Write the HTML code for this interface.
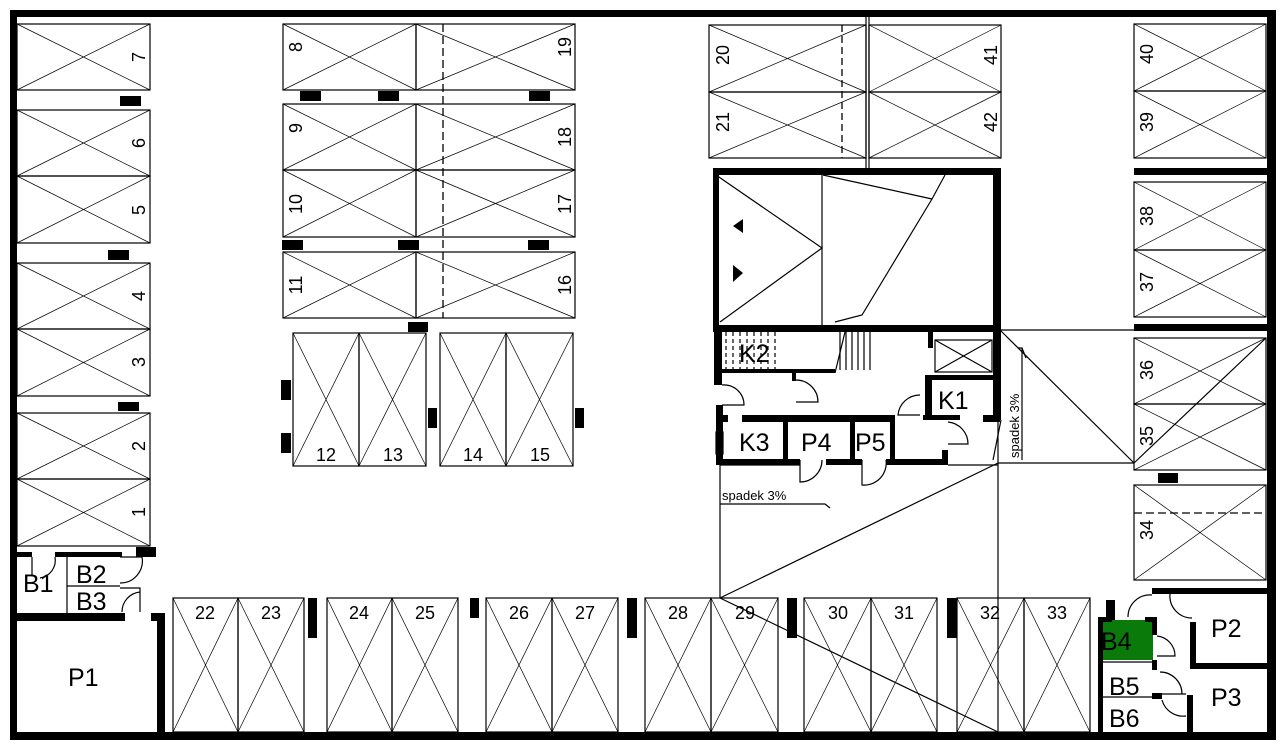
<!DOCTYPE html>
<html><head><meta charset="utf-8"><style>
html,body{margin:0;padding:0;background:#fff;}
svg{display:block;font-family:"Liberation Sans",Arial,sans-serif;}
.s{fill:none;stroke:#000;stroke-width:1.2}
.x{stroke:#000;stroke-width:0.7}
.n{font-size:18px;fill:#000}
.r{font-size:25px;fill:#000}
</style></head><body>
<svg width="1284" height="748" viewBox="0 0 1284 748" xmlns="http://www.w3.org/2000/svg">
<rect width="1284" height="748" fill="#fff"/>
<rect x="10" y="10" width="1266" height="7" fill="#000"/>
<rect x="10" y="10" width="7" height="730" fill="#000"/>
<rect x="10" y="732" width="1266" height="8" fill="#000"/>
<rect x="1267" y="10" width="9" height="730" fill="#000"/>

<g class="x" fill="none">
<rect class="s" x="17" y="24" width="133" height="66"/><line x1="17" y1="24" x2="150" y2="90"/><line x1="17" y1="90" x2="150" y2="24"/>
<rect class="s" x="17" y="110" width="133" height="66"/><line x1="17" y1="110" x2="150" y2="176"/><line x1="17" y1="176" x2="150" y2="110"/>
<rect class="s" x="17" y="176" width="133" height="67"/><line x1="17" y1="176" x2="150" y2="243"/><line x1="17" y1="243" x2="150" y2="176"/>
<rect class="s" x="17" y="263" width="133" height="66"/><line x1="17" y1="263" x2="150" y2="329"/><line x1="17" y1="329" x2="150" y2="263"/>
<rect class="s" x="17" y="329" width="133" height="67"/><line x1="17" y1="329" x2="150" y2="396"/><line x1="17" y1="396" x2="150" y2="329"/>
<rect class="s" x="17" y="413" width="133" height="66"/><line x1="17" y1="413" x2="150" y2="479"/><line x1="17" y1="479" x2="150" y2="413"/>
<rect class="s" x="17" y="479" width="133" height="67"/><line x1="17" y1="479" x2="150" y2="546"/><line x1="17" y1="546" x2="150" y2="479"/>

<rect class="s" x="283" y="24" width="133" height="66"/><line x1="283" y1="24" x2="416" y2="90"/><line x1="283" y1="90" x2="416" y2="24"/>
<rect class="s" x="416" y="24" width="159" height="66"/><line x1="416" y1="24" x2="575" y2="90"/><line x1="416" y1="90" x2="575" y2="24"/>
<rect class="s" x="283" y="104" width="133" height="66"/><line x1="283" y1="104" x2="416" y2="170"/><line x1="283" y1="170" x2="416" y2="104"/>
<rect class="s" x="416" y="104" width="159" height="66"/><line x1="416" y1="104" x2="575" y2="170"/><line x1="416" y1="170" x2="575" y2="104"/>
<rect class="s" x="283" y="170" width="133" height="67"/><line x1="283" y1="170" x2="416" y2="237"/><line x1="283" y1="237" x2="416" y2="170"/>
<rect class="s" x="416" y="170" width="159" height="67"/><line x1="416" y1="170" x2="575" y2="237"/><line x1="416" y1="237" x2="575" y2="170"/>
<rect class="s" x="283" y="252" width="133" height="66"/><line x1="283" y1="252" x2="416" y2="318"/><line x1="283" y1="318" x2="416" y2="252"/>
<rect class="s" x="416" y="252" width="159" height="66"/><line x1="416" y1="252" x2="575" y2="318"/><line x1="416" y1="318" x2="575" y2="252"/>
<line x1="443" y1="24" x2="443" y2="318" stroke-dasharray="8,4" stroke-width="1.3"/>

<rect class="s" x="293" y="333" width="66" height="133"/><line x1="293" y1="333" x2="359" y2="466"/><line x1="293" y1="466" x2="359" y2="333"/>
<rect class="s" x="359" y="333" width="67" height="133"/><line x1="359" y1="333" x2="426" y2="466"/><line x1="359" y1="466" x2="426" y2="333"/>
<rect class="s" x="440" y="333" width="66" height="133"/><line x1="440" y1="333" x2="506" y2="466"/><line x1="440" y1="466" x2="506" y2="333"/>
<rect class="s" x="506" y="333" width="67" height="133"/><line x1="506" y1="333" x2="573" y2="466"/><line x1="506" y1="466" x2="573" y2="333"/>

<rect class="s" x="709" y="25" width="157" height="67"/><line x1="709" y1="25" x2="866" y2="92"/><line x1="709" y1="92" x2="866" y2="25"/>
<rect class="s" x="709" y="92" width="157" height="66"/><line x1="709" y1="92" x2="866" y2="158"/><line x1="709" y1="158" x2="866" y2="92"/>
<line x1="842" y1="25" x2="842" y2="158" stroke-dasharray="7,4" stroke-width="1.3"/>
<rect class="s" x="869" y="25" width="132" height="67"/><line x1="869" y1="25" x2="1001" y2="92"/><line x1="869" y1="92" x2="1001" y2="25"/>
<rect class="s" x="869" y="92" width="132" height="66"/><line x1="869" y1="92" x2="1001" y2="158"/><line x1="869" y1="158" x2="1001" y2="92"/>
<line class="s" x1="866" y1="17" x2="866" y2="168"/><line class="s" x1="869" y1="17" x2="869" y2="168"/>

<rect class="s" x="1134" y="24" width="132" height="67"/><line x1="1134" y1="24" x2="1266" y2="91"/><line x1="1134" y1="91" x2="1266" y2="24"/>
<rect class="s" x="1134" y="91" width="132" height="67"/><line x1="1134" y1="91" x2="1266" y2="158"/><line x1="1134" y1="158" x2="1266" y2="91"/>
<rect class="s" x="1134" y="182" width="132" height="68"/><line x1="1134" y1="182" x2="1266" y2="250"/><line x1="1134" y1="250" x2="1266" y2="182"/>
<rect class="s" x="1134" y="250" width="132" height="67"/><line x1="1134" y1="250" x2="1266" y2="317"/><line x1="1134" y1="317" x2="1266" y2="250"/>
<rect class="s" x="1134" y="338" width="132" height="66"/><line x1="1134" y1="338" x2="1266" y2="404"/><line x1="1134" y1="404" x2="1266" y2="338"/>
<rect class="s" x="1134" y="404" width="132" height="66"/><line x1="1134" y1="404" x2="1266" y2="470"/><line x1="1134" y1="470" x2="1266" y2="404"/>
<rect class="s" x="1134" y="485" width="132" height="95"/><line x1="1134" y1="485" x2="1266" y2="580"/><line x1="1134" y1="580" x2="1266" y2="485"/>
<line x1="1134" y1="513" x2="1266" y2="513" stroke-dasharray="8,4" stroke-width="1.3"/>

<rect class="s" x="173" y="598" width="65" height="134"/><line x1="173" y1="598" x2="238" y2="732"/><line x1="173" y1="732" x2="238" y2="598"/>
<rect class="s" x="238" y="598" width="66" height="134"/><line x1="238" y1="598" x2="304" y2="732"/><line x1="238" y1="732" x2="304" y2="598"/>
<rect class="s" x="327" y="598" width="65" height="134"/><line x1="327" y1="598" x2="392" y2="732"/><line x1="327" y1="732" x2="392" y2="598"/>
<rect class="s" x="392" y="598" width="66" height="134"/><line x1="392" y1="598" x2="458" y2="732"/><line x1="392" y1="732" x2="458" y2="598"/>
<rect class="s" x="486" y="598" width="66" height="134"/><line x1="486" y1="598" x2="552" y2="732"/><line x1="486" y1="732" x2="552" y2="598"/>
<rect class="s" x="552" y="598" width="66" height="134"/><line x1="552" y1="598" x2="618" y2="732"/><line x1="552" y1="732" x2="618" y2="598"/>
<rect class="s" x="645" y="598" width="66" height="134"/><line x1="645" y1="598" x2="711" y2="732"/><line x1="645" y1="732" x2="711" y2="598"/>
<rect class="s" x="711" y="598" width="67" height="134"/><line x1="711" y1="598" x2="778" y2="732"/><line x1="711" y1="732" x2="778" y2="598"/>
<rect class="s" x="804" y="598" width="67" height="134"/><line x1="804" y1="598" x2="871" y2="732"/><line x1="804" y1="732" x2="871" y2="598"/>
<rect class="s" x="871" y="598" width="66" height="134"/><line x1="871" y1="598" x2="937" y2="732"/><line x1="871" y1="732" x2="937" y2="598"/>
<rect class="s" x="957" y="598" width="67" height="134"/><line x1="957" y1="598" x2="1024" y2="732"/><line x1="957" y1="732" x2="1024" y2="598"/>
<rect class="s" x="1024" y="598" width="66" height="134"/><line x1="1024" y1="598" x2="1090" y2="732"/><line x1="1024" y1="732" x2="1090" y2="598"/>
</g>

<g class="s">
<line x1="720" y1="465" x2="720" y2="598"/>
<line x1="720" y1="598" x2="998" y2="463"/>
<line x1="720" y1="598" x2="998" y2="732"/>
<line x1="998" y1="420" x2="998" y2="732"/>
<line x1="998" y1="463" x2="1134" y2="463"/>
<line x1="1000" y1="330" x2="1134" y2="330"/>
<line x1="1000" y1="330" x2="1134" y2="463"/>
<line x1="1134" y1="463" x2="1266" y2="338"/>
<line x1="720" y1="465" x2="800" y2="465"/>
<line x1="948" y1="465" x2="998" y2="465"/>
</g>

<g fill="#000">
<rect x="120" y="96" width="21" height="10"/>
<rect x="108" y="250" width="21" height="10"/>
<rect x="118" y="402" width="21" height="9"/>
<rect x="136" y="547" width="20" height="10"/>
<rect x="300" y="91" width="21" height="10"/>
<rect x="378" y="91" width="21" height="10"/>
<rect x="529" y="91" width="21" height="10"/>
<rect x="282" y="240" width="21" height="10"/>
<rect x="398" y="240" width="21" height="10"/>
<rect x="528" y="240" width="21" height="10"/>
<rect x="408" y="322" width="20" height="10"/>
<rect x="281" y="380" width="10" height="20"/>
<rect x="281" y="433" width="10" height="20"/>
<rect x="428" y="408" width="9" height="20"/>
<rect x="575" y="408" width="9" height="20"/>
<rect x="1158" y="473" width="20" height="10"/>
<rect x="308" y="598" width="9" height="40"/>
<rect x="470" y="598" width="9" height="20"/>
<rect x="627" y="598" width="10" height="40"/>
<rect x="787" y="598" width="10" height="40"/>
<rect x="947" y="598" width="10" height="40"/>
<rect x="1134" y="168" width="134" height="7"/>
<rect x="1134" y="324" width="134" height="7"/>
</g>

<g fill="#000">
<rect x="713" y="168" width="287" height="7"/>
<rect x="713" y="168" width="6" height="164"/>
<rect x="993" y="168" width="8" height="252"/>
<rect x="713" y="325" width="287" height="7"/>
<rect x="714" y="332" width="8" height="53"/>
<rect x="716" y="405" width="7" height="60"/>
<rect x="722" y="369" width="113" height="4"/>
<rect x="792" y="372" width="4" height="9"/>
<rect x="742" y="415" width="153" height="7"/>
<rect x="722" y="415" width="6" height="7"/>
<rect x="783" y="415" width="5" height="50"/>
<rect x="850" y="415" width="5" height="50"/>
<rect x="890" y="415" width="5" height="50"/>
<rect x="716" y="459" width="84" height="6"/>
<rect x="826" y="459" width="36" height="6"/>
<rect x="886" y="459" width="62" height="6"/>
<rect x="942" y="450" width="6" height="15"/>
<rect x="928" y="332" width="5" height="16"/>
<rect x="928" y="375" width="66" height="5"/>
<rect x="925" y="375" width="7" height="44"/>
<rect x="923" y="415" width="37" height="5"/>
<rect x="983" y="415" width="17" height="7"/>
<polygon points="743,219 743,233 733,226"/>
<polygon points="733,265 743,273 733,282"/>
</g>
<g class="s" stroke-width="1">
<line x1="822" y1="175" x2="822" y2="325"/>
<polyline points="716,175 822,248 720,322"/>
<line x1="823" y1="175" x2="932" y2="199"/>
<polyline points="945,175 932,199 862,315 835,322"/>
<rect x="935" y="340" width="57" height="32"/>
<line x1="935" y1="340" x2="992" y2="372"/><line x1="935" y1="372" x2="992" y2="340"/>
<polyline points="835,373 845,332"/>
<path d="M840 332V370M846 332V370M852 332V370M858 332V370M864 332V370M870 332V370" />
<path d="M726 332V369M733 332V369M740 332V369M747 332V369M754 332V369M761 332V369M768 332V369M775 332V369" stroke-dasharray="4,3"/>
<path d="M722 385 A20 20 0 0 1 744 405 L722 405"/>
<path d="M796 380 A22 22 0 0 1 818 402 L796 402"/>
<path d="M800 460 V482 A22 22 0 0 0 822 460"/>
<path d="M862 460 V485 A22 22 0 0 0 886 460"/>
<path d="M920 395 A22 22 0 0 0 898 415 L920 415"/>
<path d="M948 422 A22 22 0 0 1 968 444 L948 444"/>
<rect x="716" y="432" width="7" height="22"/>
<line x1="1001" y1="420" x2="993" y2="460"/>
</g>
<g class="s" stroke-width="1">
<polyline points="720,504 825,504 830,508"/>
<polyline points="1022,348 1022,460"/>
<polyline points="1018,348 1022,348 1026,358"/>
</g>
<text x="722" y="500" font-size="13">spadek 3%</text>
<text transform="translate(1019,458) rotate(-90)" font-size="13">spadek 3%</text>

<g fill="#000">
<rect x="17" y="552" width="15" height="5"/>
<rect x="55" y="552" width="67" height="5"/>
<rect x="17" y="613" width="108" height="8"/>
<rect x="151" y="613" width="14" height="8"/>
<rect x="157" y="613" width="8" height="119"/>
</g>
<g class="s" stroke-width="1">
<line x1="67" y1="557" x2="67" y2="613"/>
<line x1="67" y1="586" x2="120" y2="586"/>
<path d="M32 557 V575 M55 557 A18 18 0 0 1 40 578"/>
<path d="M120 557 H142 A22 22 0 0 1 120 583"/>
<path d="M120 588 H140 V612 M140 592 A20 20 0 0 0 122 612"/>
</g>
<text class="r" x="23" y="592">B1</text>
<text class="r" x="76" y="583">B2</text>
<text class="r" x="76" y="610">B3</text>
<text class="r" font-size="27" x="68" y="686">P1</text>

<rect x="1102" y="620" width="51" height="40" fill="#0a7a0a"/>
<g fill="#000">
<rect x="1106" y="600" width="9" height="20"/>
<rect x="1098" y="618" width="5" height="114"/>
<rect x="1098" y="617" width="14" height="5"/>
<rect x="1145" y="617" width="12" height="5"/>
<rect x="1152" y="617" width="5" height="18"/>
<rect x="1152" y="660" width="5" height="10"/>
<rect x="1152" y="588" width="116" height="6"/>
<rect x="1190" y="622" width="6" height="46"/>
<rect x="1190" y="663" width="78" height="6"/>
<rect x="1187" y="695" width="6" height="37"/>
<rect x="1152" y="693" width="10" height="6"/>
</g>
<g class="s" stroke-width="1">
<line x1="1103" y1="697" x2="1160" y2="697"/>
<line x1="1103" y1="662" x2="1153" y2="662"/>
<path d="M1128 617 A22 22 0 0 1 1152 595"/>
<path d="M1170 594 A22 22 0 0 0 1192 618"/>
<path d="M1157 636 A20 20 0 0 1 1175 656 L1157 656"/>
<path d="M1162 694 H1186 M1160 672 A22 22 0 0 1 1182 694"/>
<path d="M1186 716 A22 22 0 0 1 1162 700"/>
</g>
<text class="r" x="1101" y="650">B4</text>
<text class="r" x="1109" y="695">B5</text>
<text class="r" x="1109" y="727">B6</text>
<text class="r" font-size="27" x="1211" y="637">P2</text>
<text class="r" font-size="27" x="1211" y="706">P3</text>
<text class="r" x="739" y="362">K2</text>
<text class="r" x="739" y="451">K3</text>
<text class="r" x="801" y="451">P4</text>
<text class="r" x="855" y="451">P5</text>
<text class="r" x="938" y="409">K1</text>

<g class="n">
<text transform="translate(145,57) rotate(-90)" text-anchor="middle">7</text>
<text transform="translate(145,143) rotate(-90)" text-anchor="middle">6</text>
<text transform="translate(145,210) rotate(-90)" text-anchor="middle">5</text>
<text transform="translate(145,296) rotate(-90)" text-anchor="middle">4</text>
<text transform="translate(145,362) rotate(-90)" text-anchor="middle">3</text>
<text transform="translate(145,446) rotate(-90)" text-anchor="middle">2</text>
<text transform="translate(145,512) rotate(-90)" text-anchor="middle">1</text>
<text transform="translate(302,47) rotate(-90)" text-anchor="middle">8</text>
<text transform="translate(302,128) rotate(-90)" text-anchor="middle">9</text>
<text transform="translate(302,204) rotate(-90)" text-anchor="middle">10</text>
<text transform="translate(302,285) rotate(-90)" text-anchor="middle">11</text>
<text transform="translate(571,47) rotate(-90)" text-anchor="middle">19</text>
<text transform="translate(571,137) rotate(-90)" text-anchor="middle">18</text>
<text transform="translate(571,204) rotate(-90)" text-anchor="middle">17</text>
<text transform="translate(571,285) rotate(-90)" text-anchor="middle">16</text>
<text transform="translate(729,55) rotate(-90)" text-anchor="middle">20</text>
<text transform="translate(729,122) rotate(-90)" text-anchor="middle">21</text>
<text transform="translate(997,55) rotate(-90)" text-anchor="middle">41</text>
<text transform="translate(997,122) rotate(-90)" text-anchor="middle">42</text>
<text transform="translate(1153,54) rotate(-90)" text-anchor="middle">40</text>
<text transform="translate(1153,122) rotate(-90)" text-anchor="middle">39</text>
<text transform="translate(1153,216) rotate(-90)" text-anchor="middle">38</text>
<text transform="translate(1153,282) rotate(-90)" text-anchor="middle">37</text>
<text transform="translate(1153,370) rotate(-90)" text-anchor="middle">36</text>
<text transform="translate(1153,436) rotate(-90)" text-anchor="middle">35</text>
<text transform="translate(1153,530) rotate(-90)" text-anchor="middle">34</text>
<text x="326" y="461" text-anchor="middle">12</text>
<text x="393" y="461" text-anchor="middle">13</text>
<text x="473" y="461" text-anchor="middle">14</text>
<text x="540" y="461" text-anchor="middle">15</text>
<text x="205" y="619" text-anchor="middle">22</text>
<text x="271" y="619" text-anchor="middle">23</text>
<text x="359" y="619" text-anchor="middle">24</text>
<text x="425" y="619" text-anchor="middle">25</text>
<text x="519" y="619" text-anchor="middle">26</text>
<text x="585" y="619" text-anchor="middle">27</text>
<text x="678" y="619" text-anchor="middle">28</text>
<text x="745" y="619" text-anchor="middle">29</text>
<text x="838" y="619" text-anchor="middle">30</text>
<text x="904" y="619" text-anchor="middle">31</text>
<text x="990" y="619" text-anchor="middle">32</text>
<text x="1057" y="619" text-anchor="middle">33</text>
</g>
</svg>
</body></html>
